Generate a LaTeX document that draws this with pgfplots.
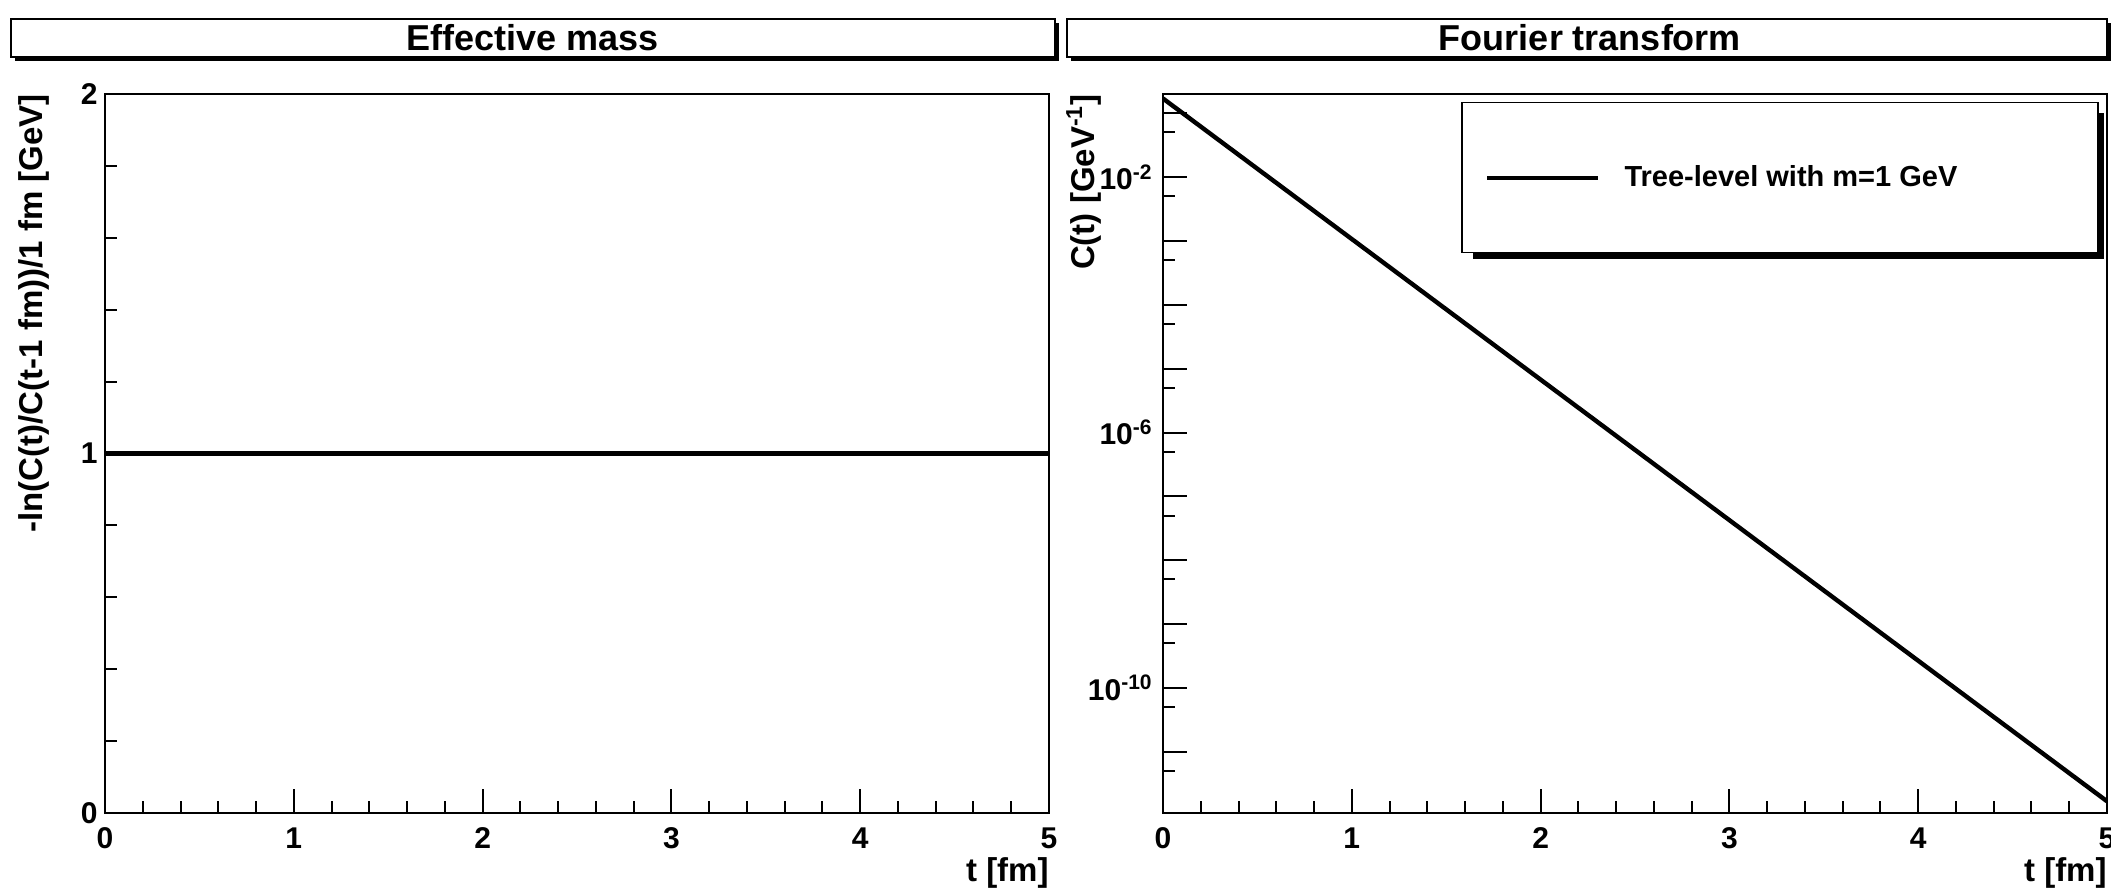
\documentclass[border=0pt]{standalone}
\usepackage{fontspec}
\setmainfont{Liberation Sans}
\usepackage{pgfplots}
\pgfplotsset{compat=1.18}

\begin{document}
\begin{tikzpicture}
\path[use as bounding box] (0,0) rectangle (1055.5pt,444.5pt);
\pgfplotsset{
  rootstyle/.style={
    scale only axis, width=472pt, height=359.5pt,
    anchor=south west,
    axis line style={line width=1pt},
    tick align=inside, xtick pos=bottom, ytick pos=left,
    major tick length=12pt, minor tick length=6pt,
    tick style={black, line width=1pt},
    xmin=0, xmax=5, xtick={0,1,2,3,4,5}, xticklabels={0,1,2,3,4,5}, minor x tick num=4,
    ticklabel style={font=\fontsize{15}{18}\selectfont\bfseries, inner sep=0pt},
    xticklabel shift=7pt,
    xlabel={t [fm]},
    xlabel style={at={(axis description cs:1,-0.0612)}, anchor=north east, inner sep=0pt, font=\fontsize{16.5}{19}\selectfont\bfseries},
    ylabel style={anchor=south east, inner sep=0pt, font=\fontsize{16.5}{19}\selectfont\bfseries},
  }
}

% ---------- left: effective mass ----------
\begin{axis}[rootstyle, at={(52.5pt,38pt)},
  ymin=0, ymax=2, ytick={0,1,2}, yticklabels={0,1,2}, minor y tick num=4,
  yticklabel shift=3.5pt,
  ylabel={-ln(C(t)/C(t-1 fm))/1 fm [GeV]},
  ylabel style={at={(axis description cs:-0.0583,1)}}]
\addplot[black, line width=2.2pt] coordinates {(0,1) (1,1) (2,1) (3,1) (4,1) (5,1)};
\end{axis}

% ---------- right: Fourier transform ----------
\begin{axis}[rootstyle, at={(581.5pt,38pt)},
  ymode=log, ymin=1.1e-12, ymax=0.2,
  ytick={1e-1,1e-2,1e-3,1e-4,1e-5,1e-6,1e-7,1e-8,1e-9,1e-10,1e-11},
  yticklabels={{},10\textsuperscript{-2},{},{},{},10\textsuperscript{-6},{},{},{},10\textsuperscript{-10},{}},
  minor ytick={5e-2,5e-3,5e-4,5e-5,5e-6,5e-7,5e-8,5e-9,5e-10,5e-11,5e-12},
  minor y tick num=0,
  yticklabel shift=5pt,
  ylabel={C(t) [GeV\textsuperscript{-1}]},
  ylabel style={at={(axis description cs:-0.0646,1)}},
  legend style={at={(0.3157,0.9889)}, anchor=north west, draw=black, line width=0.75pt,
    fill=white, inner xsep=11pt, inner ysep=0pt, minimum height=75pt, minimum width=318pt,
    font=\fontsize{14.5}{17}\selectfont\bfseries,
    nodes={inner sep=0pt, minimum width=0pt, minimum height=0pt}},
  legend cell align=left,
  legend image code/.code={\draw[black, line width=2.2pt] (0pt,0pt) -- (55.5pt,0pt);}]
% legend shadow (drawn before the legend box, which sits on top of it)
\fill[black] (axis description cs:0.3284,0.9736) rectangle (axis description cs:0.9968,0.7705);
\addplot[black, line width=2.2pt] coordinates {(0,0.17) (1,1.0702e-3) (2,6.7366e-6) (3,4.2407e-8) (4,2.6695e-10) (5,1.6805e-12)};
\addlegendentry{\hspace*{12pt}Tree-level with m=1 GeV\hspace*{58.5pt}}
\end{axis}

% ---------- titles ----------
\fill[black] (7.5pt,414pt) rectangle (529.5pt,433pt);
\draw[black, line width=0.75pt, fill=white] (5.5pt,416pt) rectangle (527.5pt,435pt);
\node[font=\fontsize{18}{20}\selectfont\bfseries] at (266.5pt,425.5pt) {Effective mass};
\fill[black] (535.5pt,414pt) rectangle (1055.5pt,433pt);
\draw[black, line width=0.75pt, fill=white] (533.5pt,416pt) rectangle (1053.5pt,435pt);
\node[font=\fontsize{18}{20}\selectfont\bfseries] at (795pt,425.5pt) {Fourier transform};
\end{tikzpicture}
\end{document}
